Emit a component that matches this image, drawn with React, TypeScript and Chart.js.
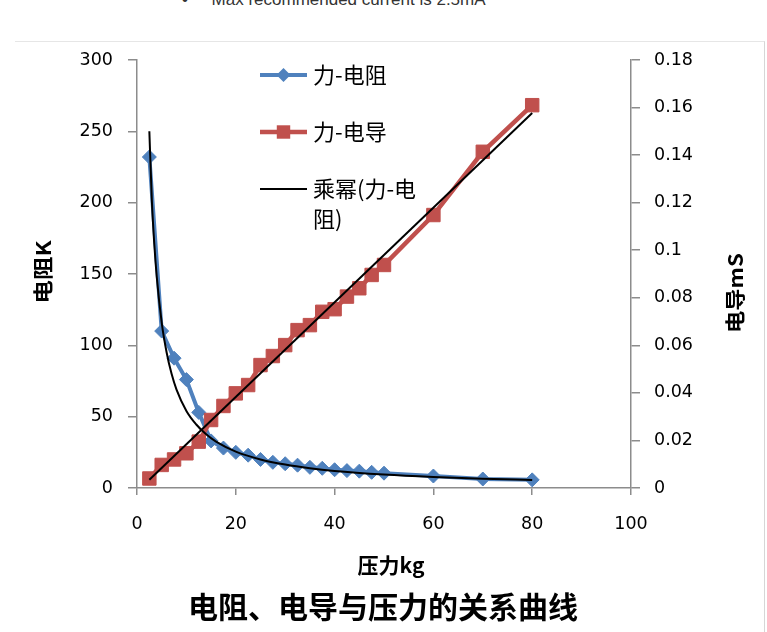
import { useEffect, useRef } from "react";
import { Chart, registerables } from "chart.js";

Chart.register(...registerables);

// 压力 (kg)
const forceKg = [2.5, 5, 7.5, 10, 12.5, 15, 17.5, 20, 22.5, 25, 27.5, 30, 32.5, 35, 37.5, 40, 42.5, 45, 47.5, 50, 60, 70, 80];
// 力-电阻 (K)
const resistanceK = [232, 110, 91, 76, 53, 33, 28, 25, 23, 20, 18, 17, 16, 14.5, 13.8, 12.8, 12.2, 11.8, 11, 10.4, 8.4, 6.3, 5.7];
// 力-电导 (mS)
const conductanceMs = [0.004, 0.0097, 0.012, 0.0146, 0.0195, 0.0286, 0.0345, 0.0398, 0.0433, 0.0517, 0.0555, 0.0601, 0.0664, 0.0685, 0.0741, 0.0752, 0.0805, 0.084, 0.0896, 0.0938, 0.1148, 0.1414, 0.161];

// 乘幂(力-电阻) trendline
const powerFitX = [2.5, 3, 3.5, 4, 5, 6, 7, 8, 10, 12, 14, 16, 20, 25, 30, 35, 40, 50, 60, 70, 80];
const powerFitY = [250, 202, 171, 148, 116, 95, 80, 69, 54, 44.5, 37.6, 32.5, 25.5, 20, 16.4, 13.8, 11.9, 9.4, 7.7, 6.5, 5.6];

// straight trendline through 力-电导
const linearFitX = [2.5, 80];
const linearFitY = [0.0035, 0.1577];

const CJK = '"Noto Sans CJK SC", sans-serif';
const AXIS_GREY = "#8c8c8c";

const toPoints = (xs: number[], ys: number[]) => xs.map((x, i) => ({ x, y: ys[i] }));

function drawText(
  ctx: CanvasRenderingContext2D,
  text: string,
  x: number,
  y: number,
  font: string,
  rotation = 0,
  width?: number
) {
  ctx.save();
  ctx.font = font;
  ctx.fillStyle = "#000";
  ctx.textAlign = "center";
  ctx.textBaseline = "middle";
  ctx.translate(x, y);
  ctx.rotate(rotation);
  if (width) ctx.scale(width / ctx.measureText(text).width, 1);
  ctx.fillText(text, 0, 0);
  ctx.restore();
}

function drawMarker(ctx: CanvasRenderingContext2D, style: string, r: number, x: number, y: number) {
  ctx.beginPath();
  if (style === "rectRot") {
    ctx.moveTo(x - r, y);
    ctx.lineTo(x, y - r);
    ctx.lineTo(x + r, y);
    ctx.lineTo(x, y + r);
    ctx.closePath();
  } else if (style === "rect") {
    const h = r * Math.SQRT1_2;
    ctx.rect(x - h, y - h, 2 * h, 2 * h);
  }
  ctx.fill();
}

// titles + the Excel-like legend
const decorations = {
  id: "decorations",
  afterDraw(chart: any) {
    const { ctx, chartArea } = chart;
    const midY = (chartArea.top + chartArea.bottom) / 2;
    const midX = (chartArea.left + chartArea.right) / 2;

    drawText(ctx, "电阻K", chartArea.left - 94, midY - 2, `bold 20px ${CJK}`, -Math.PI / 2, 63);
    drawText(ctx, "电导mS", chartArea.right + 104, midY + 19, `bold 20px ${CJK}`, -Math.PI / 2, 80);
    drawText(ctx, "压力kg", midX + 7, chartArea.bottom + 77, `bold 21px ${CJK}`);
    drawText(ctx, "电阻、电导与压力的关系曲线", midX - 1, chartArea.bottom + 119, `bold 30px ${CJK}`);

    // legend
    const x0 = chartArea.left + 123;
    const x1 = chartArea.left + 170;
    const tx = chartArea.left + 176;
    let y = chartArea.top + 15;
    ctx.save();
    ctx.font = `22px ${CJK}`;
    ctx.textBaseline = "middle";
    ctx.textAlign = "left";
    chart.data.datasets.forEach((ds: any) => {
      if (ds.hideInLegend) return;
      ctx.strokeStyle = ds.borderColor;
      ctx.lineWidth = ds.borderWidth;
      ctx.beginPath();
      ctx.moveTo(x0, y);
      ctx.lineTo(x1, y);
      ctx.stroke();
      if (ds.pointRadius > 0) {
        ctx.fillStyle = ds.pointBackgroundColor;
        drawMarker(ctx, ds.pointStyle, ds.pointRadius, (x0 + x1) / 2, y);
      }
      // wrap label
      const lines: string[] = [];
      let cur = "";
      for (const ch of ds.label as string) {
        if (cur && ctx.measureText(cur + ch).width > 108) {
          lines.push(cur);
          cur = ch;
        } else cur += ch;
      }
      lines.push(cur);
      ctx.fillStyle = "#000";
      lines.forEach((l, i) => ctx.fillText(l, tx, y + i * 30));
      y += 57;
    });
    ctx.restore();
  },
};

export default function App() {
  const canvasRef = useRef<HTMLCanvasElement>(null);

  useEffect(() => {
    if (!canvasRef.current) return;
    const tickFont = { family: '"DejaVu Sans", sans-serif', size: 17.5 };
    const chart = new Chart(canvasRef.current, {
      type: "line",
      data: {
        datasets: [
          {
            label: "力-电阻",
            data: toPoints(forceKg, resistanceK),
            yAxisID: "y",
            borderColor: "#4F81BD",
            backgroundColor: "#4F81BD",
            borderWidth: 4,
            pointStyle: "rectRot",
            pointRadius: 7,
            pointBackgroundColor: "#4F81BD",
            pointBorderColor: "#4F81BD",
            pointBorderWidth: 1,
            order: 3,
          } as any,
          {
            label: "力-电导",
            data: toPoints(forceKg, conductanceMs),
            yAxisID: "y1",
            borderColor: "#C0504D",
            backgroundColor: "#C0504D",
            borderWidth: 4.5,
            pointStyle: "rect",
            pointRadius: 9.5,
            pointBackgroundColor: "#C0504D",
            pointBorderColor: "#C0504D",
            pointBorderWidth: 1,
            order: 2,
          },
          {
            label: "乘幂(力-电阻)",
            data: toPoints(powerFitX, powerFitY),
            yAxisID: "y",
            borderColor: "#000",
            borderWidth: 2,
            pointRadius: 0,
            cubicInterpolationMode: "monotone",
            order: 1,
          },
          {
            label: "线性(力-电导)",
            data: toPoints(linearFitX, linearFitY),
            yAxisID: "y1",
            borderColor: "#000",
            borderWidth: 2,
            pointRadius: 0,
            hideInLegend: true,
            order: 0,
          },
        ] as any,
      },
      options: {
        animation: false,
        responsive: true,
        maintainAspectRatio: false,
        layout: { padding: { top: 60, left: 0, right: 0, bottom: 0 } },
        plugins: {
          legend: { display: false },
          tooltip: { enabled: false },
        },
        scales: {
          x: {
            type: "linear",
            min: 0,
            max: 100,
            ticks: { stepSize: 20, color: "#000", font: tickFont, padding: 19 },
            grid: { drawOnChartArea: false, tickLength: 7, color: AXIS_GREY, lineWidth: 1.5 },
            border: { color: AXIS_GREY, width: 1.5 },
            afterFit: (s: any) => {
              s.height = 144;
            },
          },
          y: {
            position: "left",
            min: 0,
            max: 300,
            ticks: { stepSize: 50, color: "#000", font: tickFont, padding: 15 },
            grid: { drawOnChartArea: false, tickLength: 9, color: AXIS_GREY, lineWidth: 1.5 },
            border: { color: AXIS_GREY, width: 1.5 },
            afterFit: (s: any) => {
              s.width = 137;
            },
          },
          y1: {
            position: "right",
            min: 0,
            max: 0.18,
            ticks: {
              stepSize: 0.02,
              color: "#000",
              font: tickFont,
              padding: 14,
              callback: (v: any) => String(Number(Number(v).toFixed(2))),
            },
            grid: { drawOnChartArea: false, tickLength: 9, color: AXIS_GREY, lineWidth: 1.5 },
            border: { color: AXIS_GREY, width: 1.5 },
            afterFit: (s: any) => {
              s.width = 136;
            },
          },
        },
      },
      plugins: [decorations],
    });
    return () => chart.destroy();
  }, []);

  return (
    <div style={{ position: "absolute", left: 0, top: 0, width: 767, height: 632, background: "#fff", overflow: "hidden" }}>
      <div style={{ position: "absolute", left: 0, top: 0, width: 767, height: 9, overflow: "hidden" }}>
        <div
          style={{
            position: "absolute",
            left: 182,
            top: -10,
            whiteSpace: "nowrap",
            font: '17px "Liberation Sans", Arial, sans-serif',
            color: "#333",
          }}
        >
          •&nbsp;&nbsp;&nbsp;&nbsp;&nbsp;Max recommended current is 2.5mA
        </div>
      </div>
      <div
        style={{
          position: "absolute",
          left: 15,
          top: 41,
          width: 749,
          height: 600,
          borderTop: "1px solid #e6e6e6",
          borderRight: "1px solid #d6d6d6",
        }}
      />
      <div style={{ position: "absolute", left: 0, top: 0, width: 767, height: 632 }}>
        <canvas ref={canvasRef} />
      </div>
    </div>
  );
}
